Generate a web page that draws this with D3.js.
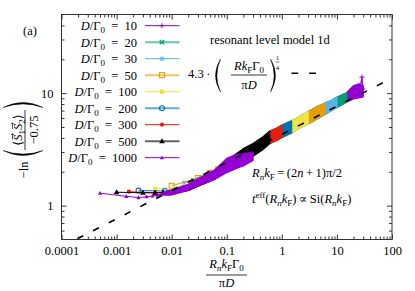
<!DOCTYPE html>
<html>
<head>
<meta charset="utf-8">
<script src="https://cdn.jsdelivr.net/npm/d3@7"></script>
<style>
  body { margin: 0; background: #fff; }
  svg { display: block; font-family: "Liberation Serif", "DejaVu Serif", serif; font-size: 12.5px; }
</style>
</head>
<body>
<svg id="chart" width="415" height="291"></svg>
<script>
// D/Γ0 of each series, drawn in this order (legend order)
var ratios = [10, 20, 30, 50, 100, 200, 300, 500, 1000];
var colors = ['#9400d3', '#009e73', '#56b4e9', '#e69f00', '#f0e442', '#0072b2', '#e51e10', '#000000', '#9400d3'];
var symbols = ['plus', 'cross', 'star', 'square', 'squareFill', 'circle', 'circleFill', 'triangle', 'triangleSmall'];

// first points of every series: [R_n k_F Γ0/(πD), -ln(<S1S2>/-0.75)]
var heads = [
  [[0.05, 1.99], [0.15, 2.55], [0.25, 2.9]],
  [[0.025, 1.68], [0.075, 2.12], [0.125, 2.4]],
  [[0.0167, 1.60], [0.05, 1.97], [0.0833, 2.25]],
  [[0.01, 1.50], [0.03, 1.76], [0.05, 1.95], [0.07, 2.1]],
  [[0.005, 1.41], [0.015, 1.46], [0.025, 1.58], [0.035, 1.70]],
  [[0.0025, 1.36], [0.0075, 1.35], [0.0125, 1.38], [0.0175, 1.43]],
  [[0.00167, 1.33], [0.005, 1.30], [0.00833, 1.31], [0.0117, 1.34]],
  [[0.001, 1.316], [0.003, 1.30], [0.005, 1.30], [0.007, 1.31], [0.009, 1.32]],
  [[0.0005, 1.29], [0.0015, 1.21], [0.0025, 1.18], [0.0035, 1.20], [0.0045, 1.22], [0.0055, 1.24]]
];
// last x of every series
var seriesEnd = [30, 15, 10, 6, 3, 1.5, 1, 0.6, 0.3];

// dense part: spread of the points (low / high) along the common curve
var bandX  = [0.01, 0.02, 0.03, 0.06, 0.1, 0.2, 0.3, 0.45, 0.6, 0.8, 1, 1.5, 2, 3, 4.5, 6, 8, 10, 15, 20, 25, 30];
var bandLo = [1.27, 1.37, 1.49, 1.72, 2.02, 2.50, 2.77, 3.16, 3.58, 3.80, 4.04, 4.43, 4.86, 5.33, 5.97, 6.48, 7.03, 7.48, 8.37, 8.90, 9.08, 9.27];
var bandHi = [1.36, 1.52, 1.70, 2.05, 2.50, 3.19, 3.54, 4.04, 4.57, 4.86, 5.17, 5.67, 6.09, 6.82, 7.63, 8.11, 8.63, 9.18, 10.06, 11.61, 12.10, 11.61];
// D/Γ0 = 1000 lies a little lower
var band1000X  = [0.01, 0.02, 0.03, 0.06, 0.1, 0.15, 0.2, 0.3];
var band1000Lo = [1.245, 1.365, 1.497, 1.71, 1.97, 2.15, 2.26, 2.53];
var band1000Hi = [1.379, 1.544, 1.728, 2.06, 2.63, 2.85, 2.88, 2.98];
// noisy end of D/Γ0 = 10
var tail10 = [[26.5, 11.4], [28.5, 13.9], [29.5, 10.9]];

// 4.3 (R kF Γ0 / πD)^(1/4)
var fitX = [0.0001, 100];
var fitY = [0.43, 13.6];

var xTicks = [0.0001, 0.001, 0.01, 0.1, 1, 10, 100];
var xTickLabels = ['0.0001', '0.001', '0.01', '0.1', '1', '10', '100'];
var yTicks = [1, 10];
var yTickLabels = ['1', '10'];

var svg = d3.select('#chart');
var x = d3.scaleLog().domain([1e-4, 100]).range([61.5, 392]);
var y = d3.scaleLog().domain([0.5, 50]).range([239.5, 14.5]);

// minor ticks 2..9 of each decade
var xMinor = [], yMinor = [];
d3.range(-4, 2).forEach(function(k) {
  d3.range(2, 10).forEach(function(m) { xMinor.push(m * Math.pow(10, k)); });
});
d3.range(-1, 2).forEach(function(k) {
  d3.range(2, 10).forEach(function(m) {
    var v = m * Math.pow(10, k);
    if (v > 0.5 && v < 50 && yTicks.indexOf(v) < 0) yMinor.push(v);
  });
});

svg.append('clipPath').attr('id', 'plotclip')
  .append('rect').attr('x', 61.5).attr('y', 14.5).attr('width', 330.5).attr('height', 225);

var plot = svg.append('g').attr('clip-path', 'url(#plotclip)');

var line = d3.line().x(function(d) { return x(d[0]); }).y(function(d) { return y(d[1]); });
var area = d3.area()
  .x(function(d) { return x(d[0]); })
  .y0(function(d) { return y(d[1]); })
  .y1(function(d) { return y(d[2]); });

function marker(g, sym, col, cx, cy) {
  switch (sym) {
    case 'plus':
      g.append('path').attr('d', 'M' + (cx - 2.5) + ',' + cy + 'h5M' + cx + ',' + (cy - 2.5) + 'v5')
        .attr('stroke', col).attr('fill', 'none'); break;
    case 'cross':
      g.append('path').attr('d', 'M' + (cx - 2.2) + ',' + (cy - 2.2) + 'l4.4,4.4M' + (cx - 2.2) + ',' + (cy + 2.2) + 'l4.4,-4.4')
        .attr('stroke', col).attr('stroke-width', 1.3).attr('fill', 'none'); break;
    case 'star':
      g.append('path').attr('d', 'M' + (cx - 2.5) + ',' + cy + 'h5M' + cx + ',' + (cy - 2.5) + 'v5M' +
        (cx - 2) + ',' + (cy - 2) + 'l4,4M' + (cx - 2) + ',' + (cy + 2) + 'l4,-4')
        .attr('stroke', col).attr('fill', 'none'); break;
    case 'square':
      g.append('rect').attr('x', cx - 2.5).attr('y', cy - 2.5).attr('width', 5).attr('height', 5)
        .attr('stroke', col).attr('stroke-width', 1.1).attr('fill', 'none'); break;
    case 'squareFill':
      g.append('rect').attr('x', cx - 2.2).attr('y', cy - 2.2).attr('width', 4.4).attr('height', 4.4).attr('fill', col); break;
    case 'circle':
      g.append('circle').attr('cx', cx).attr('cy', cy).attr('r', 2.5)
        .attr('stroke', col).attr('stroke-width', 1.1).attr('fill', 'none'); break;
    case 'circleFill':
      g.append('circle').attr('cx', cx).attr('cy', cy).attr('r', 2.1).attr('fill', col); break;
    case 'triangle':
      g.append('path').attr('d', 'M' + cx + ',' + (cy - 3) + 'l2.8,5h-5.6z').attr('fill', col); break;
    case 'triangleSmall':
      g.append('path').attr('d', 'M' + cx + ',' + (cy - 2.2) + 'l2.1,3.8h-4.2z').attr('fill', col); break;
  }
}

// series, one after the other so that later ones lie on top
ratios.forEach(function(r, i) {
  var col = colors[i];
  var g = plot.append('g');
  var head = heads[i];
  var last = head[head.length - 1];
  var rows = [[last[0], last[1], last[1]]];
  if (r === 1000) {
    band1000X.forEach(function(bx, j) { rows.push([bx, band1000Lo[j], band1000Hi[j]]); });
  } else {
    bandX.forEach(function(bx, j) {
      if (bx > last[0] && bx <= seriesEnd[i]) rows.push([bx, bandLo[j], bandHi[j]]);
    });
  }
  g.append('path').attr('d', area(rows))
    .attr('fill', col).attr('stroke', col).attr('stroke-width', 1.4).attr('stroke-linejoin', 'round');
  g.append('path').attr('d', line(head)).attr('fill', 'none').attr('stroke', col).attr('stroke-width', 1);
  head.forEach(function(p) { marker(g, symbols[i], col, x(p[0]), y(p[1])); });
  if (r === 10) {
    g.append('path').attr('d', line(tail10)).attr('fill', 'none').attr('stroke', col).attr('stroke-width', 1.2);
    tail10.forEach(function(p) { marker(g, symbols[i], col, x(p[0]), y(p[1])); });
  }
});

// power law guide
plot.append('path')
  .attr('d', line(fitX.map(function(v, j) { return [v, fitY[j]]; })))
  .attr('fill', 'none').attr('stroke', '#000').attr('stroke-width', 1.6)
  .attr('stroke-dasharray', '6.7,11');

// frame and ticks (inward, mirrored)
function tickStyle(g) {
  g.attr('font-family', '"Liberation Serif", "DejaVu Serif", serif').attr('font-size', '12.5px');
  g.select('.domain').remove();
  g.selectAll('line').attr('stroke', '#333');
  g.selectAll('text').attr('fill', '#000');
}
svg.append('g').attr('transform', 'translate(0,239.5)')
  .call(d3.axisBottom(x).tickValues(xTicks).tickSize(-5).tickPadding(7)
    .tickFormat(function(d, i) { return xTickLabels[i]; }))
  .call(tickStyle);
svg.append('g').attr('transform', 'translate(0,239.5)')
  .call(d3.axisBottom(x).tickValues(xMinor).tickSize(-3).tickFormat('')).call(tickStyle);
svg.append('g').attr('transform', 'translate(0,14.5)')
  .call(d3.axisTop(x).tickValues(xTicks).tickSize(-5).tickFormat('')).call(tickStyle);
svg.append('g').attr('transform', 'translate(0,14.5)')
  .call(d3.axisTop(x).tickValues(xMinor).tickSize(-3).tickFormat('')).call(tickStyle);
svg.append('g').attr('transform', 'translate(61.5,0)')
  .call(d3.axisLeft(y).tickValues(yTicks).tickSize(-5).tickPadding(8)
    .tickFormat(function(d, i) { return yTickLabels[i]; }))
  .call(tickStyle);
svg.append('g').attr('transform', 'translate(61.5,0)')
  .call(d3.axisLeft(y).tickValues(yMinor).tickSize(-3).tickFormat('')).call(tickStyle);
svg.append('g').attr('transform', 'translate(392,0)')
  .call(d3.axisRight(y).tickValues(yTicks).tickSize(-5).tickFormat('')).call(tickStyle);
svg.append('g').attr('transform', 'translate(392,0)')
  .call(d3.axisRight(y).tickValues(yMinor).tickSize(-3).tickFormat('')).call(tickStyle);
svg.append('rect').attr('x', 61.5).attr('y', 14.5).attr('width', 330.5).attr('height', 225)
  .attr('fill', 'none').attr('stroke', '#333').attr('stroke-width', 1);

// rich text helper: parts {t, i: italic, sub, sup}
function rich(sel, parts, size) {
  var base = 0;
  parts.forEach(function(p) {
    var shift = p.sub ? 3 : (p.sup ? -5 : 0);
    var ts = sel.append('tspan').text(p.t).attr('dy', shift - base);
    base = shift;
    if (p.i) ts.attr('font-style', 'italic');
    if (p.sub || p.sup) ts.attr('font-size', (size * 0.72) + 'px');
  });
  return sel;
}
function label(px, py, anchor, parts, size) {
  size = size || 12.5;
  var t = svg.append('text').attr('x', px).attr('y', py).attr('text-anchor', anchor)
    .attr('font-size', size + 'px').attr('fill', '#000');
  return rich(t, parts, size);
}
// big parenthesis drawn as a crescent; dir = -1 for "(", +1 for ")"
function paren(g, px, y0, y1, dir, vertical) {
  var mid = (y0 + y1) / 2, b1 = 10 * dir, b2 = 7.2 * dir;
  var d = vertical
    ? 'M' + px + ',' + y0 + 'Q' + (px - b1) + ',' + mid + ' ' + px + ',' + y1 + 'Q' + (px - b2) + ',' + mid + ' ' + px + ',' + y0 + 'Z'
    : 'M' + y0 + ',' + px + 'Q' + mid + ',' + (px - b1) + ' ' + y1 + ',' + px + 'Q' + mid + ',' + (px - b2) + ' ' + y0 + ',' + px + 'Z';
  g.append('path').attr('d', d).attr('fill', '#000').attr('stroke', '#000').attr('stroke-width', 0.4);
}

// legend
var legendTop = 25.7, legendStep = 16.5;
ratios.forEach(function(r, i) {
  var yy = legendTop + legendStep * i;
  var thick = (i === 1 || i === 3 || i === 5 || i === 7);
  svg.append('line').attr('x1', 145).attr('x2', 179.5).attr('y1', yy).attr('y2', yy)
    .attr('stroke', colors[i]).attr('stroke-width', thick ? 2 : 1).attr('opacity', thick ? 0.6 : 1);
  marker(svg, symbols[i], colors[i], 162, yy);
  label(137, yy + 4.5, 'end', [{ t: 'D', i: true }, { t: '/\u0393' }, { t: '0', sub: true }, { t: '\u2002=\u2002' + r }]);
});

// power-law key
label(188, 78, 'start', [{ t: '4.3\u2009\u00b7' }]);
paren(svg, 220.5, 59, 92, 1, true);
paren(svg, 270.5, 59, 92, -1, true);
label(249, 70, 'middle', [{ t: 'R', i: true }, { t: 'k', i: true }, { t: 'F', sub: true }, { t: '\u0393' }, { t: '0', sub: true }]);
svg.append('line').attr('x1', 231).attr('x2', 267).attr('y1', 75).attr('y2', 75).attr('stroke', '#000').attr('stroke-width', 0.8);
label(249, 89, 'middle', [{ t: '\u03c0' }, { t: 'D', i: true }]);
label(277.5, 59.5, 'middle', [{ t: '1' }], 7);
svg.append('line').attr('x1', 275.5).attr('x2', 279.5).attr('y1', 62).attr('y2', 62).attr('stroke', '#000').attr('stroke-width', 0.5);
label(277.5, 69.5, 'middle', [{ t: '4' }], 7);
svg.append('line').attr('x1', 291.5).attr('x2', 320).attr('y1', 73.3).attr('y2', 73.3)
  .attr('stroke', '#000').attr('stroke-width', 1.6).attr('stroke-dasharray', '6.7,11');

label(210, 43.5, 'start', [{ t: 'resonant level model 1d' }]);
label(23, 35, 'start', [{ t: '(a)' }]);

label(252, 177, 'start', [{ t: 'R', i: true }, { t: 'n', i: true, sub: true }, { t: 'k', i: true }, { t: 'F', sub: true },
  { t: '\u2009=\u2009(2' }, { t: 'n', i: true }, { t: '\u2009+\u20091)\u03c0/2' }]);
label(252, 203, 'start', [{ t: 't', i: true }, { t: 'eff', sup: true }, { t: '(' }, { t: 'R', i: true }, { t: 'n', i: true, sub: true },
  { t: 'k', i: true }, { t: 'F', sub: true }, { t: ')\u2009\u221d\u2009Si(' }, { t: 'R', i: true }, { t: 'n', i: true, sub: true },
  { t: 'k', i: true }, { t: 'F', sub: true }, { t: ')' }]);

// x axis title
label(226.5, 268, 'middle', [{ t: 'R', i: true }, { t: 'n', i: true, sub: true }, { t: 'k', i: true }, { t: 'F', sub: true },
  { t: '\u0393' }, { t: '0', sub: true }]);
svg.append('line').attr('x1', 206).attr('x2', 247).attr('y1', 275).attr('y2', 275).attr('stroke', '#000').attr('stroke-width', 0.8);
label(226.5, 287, 'middle', [{ t: '\u03c0' }, { t: 'D', i: true }]);

// y axis title, rotated
var yt = svg.append('g').attr('transform', 'rotate(-90)');
yt.append('text').attr('x', -170).attr('y', 28).attr('text-anchor', 'middle').text('\u2212ln');
var num = yt.append('text').attr('x', -130).attr('y', 22).attr('text-anchor', 'middle');
rich(num, [{ t: '\u27e8' }, { t: 'S', i: true }, { t: '1', sub: true }, { t: 'S', i: true }, { t: '2', sub: true }, { t: '\u27e9' }], 12.5);
[1, 3].forEach(function(ci) {
  var e = num.node().getExtentOfChar(ci);
  var cx = e.x + e.width / 2 + 1, ty = e.y + 1.5;
  yt.append('path').attr('d', 'M' + (cx - 3) + ',' + ty + 'h6M' + (cx + 1.5) + ',' + (ty - 1.5) + 'l1.5,1.5l-1.5,1.5')
    .attr('stroke', '#000').attr('stroke-width', 0.7).attr('fill', 'none');
});
yt.append('line').attr('x1', -150).attr('x2', -110).attr('y1', 25).attr('y2', 25).attr('stroke', '#000').attr('stroke-width', 0.8);
yt.append('text').attr('x', -130).attr('y', 38).attr('text-anchor', 'middle').text('\u22120.75');
paren(svg, 150.5, 3, 43, -1, false);
paren(svg, 107.5, 3, 43, 1, false);
</script>
</body>
</html>
